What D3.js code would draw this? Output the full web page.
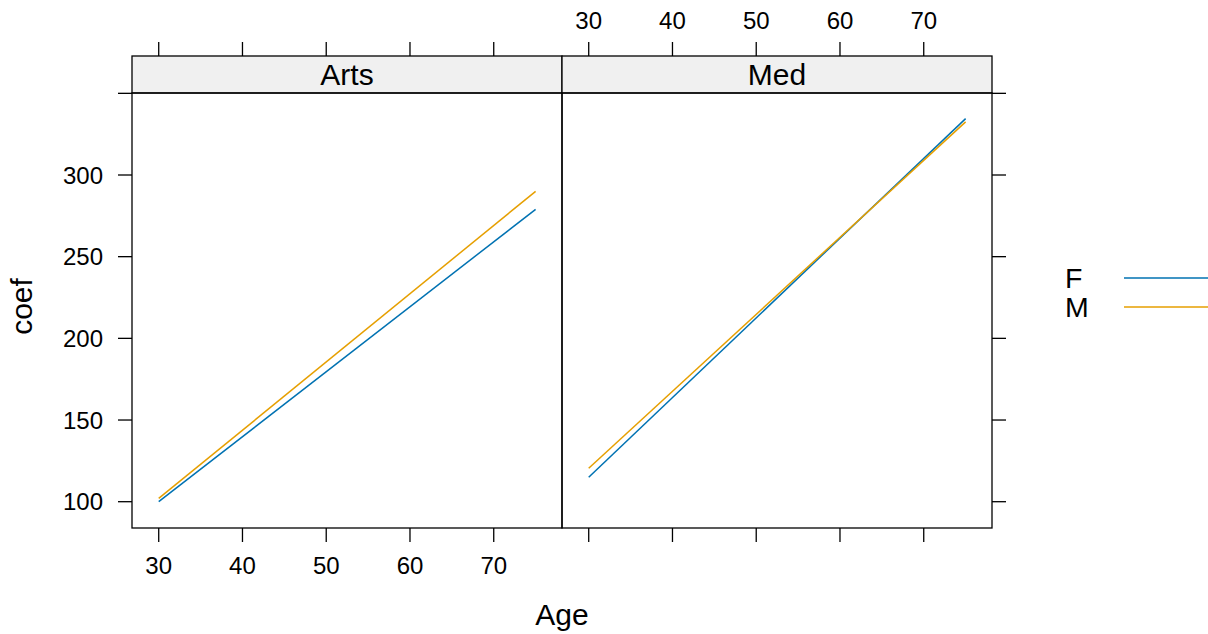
<!DOCTYPE html>
<html><head><meta charset="utf-8">
<script src="https://cdn.jsdelivr.net/npm/d3@7"></script>
<style>body{margin:0;background:#fff}svg{display:block}text{font-family:"Liberation Sans",Arial,sans-serif;fill:#000}</style>
</head><body>
<script>
const panels = ["Arts", "Med"];
const groups = ["F", "M"];
const ageRange = [30, 75];
// coef at age 30 and age 75 for each panel/group
const artsF = [100, 279];
const artsM = [102, 290];
const medF = [115, 334.5];
const medM = [120.5, 332.5];
const xTicks = [30, 40, 50, 60, 70];
const yTicks = [100, 150, 200, 250, 300, 350];
const yTickLabels = ["100", "150", "200", "250", "300", ""];
const colors = {F: "#0072B2", M: "#E69F00"};

const W = 1208, H = 634;
const svg = d3.select("body").append("svg").attr("width", W).attr("height", H);

const px0 = 132, pw = 430, pTop = 93, pBot = 528, stripTop = 56;
const x = d3.scaleLinear().domain([26.81, 78.15]).range([0, pw]);
const y = d3.scaleLinear().domain([83.9, 350.2]).range([pBot, pTop]);
const tickLen = 14;
const tickFont = 24, mainFont = 30;

const seriesData = {
  Arts: {F: artsF, M: artsM},
  Med: {F: medF, M: medM}
};

panels.forEach((p, i) => {
  const g = svg.append("g").attr("transform", `translate(${px0 + i * pw},0)`);
  g.append("rect").attr("x", 0).attr("y", stripTop).attr("width", pw).attr("height", pTop - stripTop)
    .attr("fill", "#F0F0F0").attr("stroke", "#000").attr("stroke-width", 1.3);
  g.append("text").attr("x", pw / 2).attr("y", (stripTop + pTop) / 2).attr("dy", "0.36em")
    .attr("text-anchor", "middle").attr("font-size", mainFont).text(p);
  g.append("rect").attr("x", 0).attr("y", pTop).attr("width", pw).attr("height", pBot - pTop)
    .attr("fill", "none").attr("stroke", "#000").attr("stroke-width", 1.3);
  const bottomLabels = i === 0, topLabels = i === 1;
  xTicks.forEach(t => {
    g.append("line").attr("x1", x(t)).attr("x2", x(t)).attr("y1", pBot).attr("y2", pBot + tickLen)
      .attr("stroke", "#000").attr("stroke-width", 1.3);
    g.append("line").attr("x1", x(t)).attr("x2", x(t)).attr("y1", stripTop).attr("y2", stripTop - tickLen)
      .attr("stroke", "#000").attr("stroke-width", 1.3);
    if (bottomLabels) g.append("text").attr("x", x(t)).attr("y", 574).attr("text-anchor", "middle")
      .attr("font-size", tickFont).text(t);
    if (topLabels) g.append("text").attr("x", x(t)).attr("y", 29).attr("text-anchor", "middle")
      .attr("font-size", tickFont).text(t);
  });
  groups.forEach(s => {
    const vals = seriesData[p][s];
    const pts = ageRange.map((a, k) => [a, vals[k]]);
    g.append("path").datum(pts)
      .attr("d", d3.line().x(d => x(d[0])).y(d => y(d[1])))
      .attr("fill", "none").attr("stroke", colors[s]).attr("stroke-width", 1.5);
  });
});

yTicks.forEach((t, k) => {
  svg.append("line").attr("x1", px0 - tickLen).attr("x2", px0).attr("y1", y(t)).attr("y2", y(t))
    .attr("stroke", "#000").attr("stroke-width", 1.3);
  svg.append("line").attr("x1", px0 + 2 * pw).attr("x2", px0 + 2 * pw + tickLen).attr("y1", y(t)).attr("y2", y(t))
    .attr("stroke", "#000").attr("stroke-width", 1.3);
  if (yTickLabels[k]) svg.append("text").attr("x", 103).attr("y", y(t)).attr("dy", "0.36em")
    .attr("text-anchor", "end").attr("font-size", tickFont).text(yTickLabels[k]);
});

svg.append("text").attr("x", px0 + pw).attr("y", 625).attr("text-anchor", "middle")
  .attr("font-size", mainFont).text("Age");
svg.append("text").attr("transform", `translate(32,${(pTop + pBot) / 2 - 4}) rotate(-90)`)
  .attr("text-anchor", "middle").attr("font-size", mainFont).text("coef");

groups.forEach((s, k) => {
  const ly = 278 + k * 29;
  svg.append("text").attr("x", 1065).attr("y", ly).attr("dy", "0.36em").attr("font-size", mainFont * 0.95).text(s);
  svg.append("line").attr("x1", 1124).attr("x2", 1208).attr("y1", ly).attr("y2", ly)
    .attr("stroke", colors[s]).attr("stroke-width", 1.5);
});
</script>
</body></html>
